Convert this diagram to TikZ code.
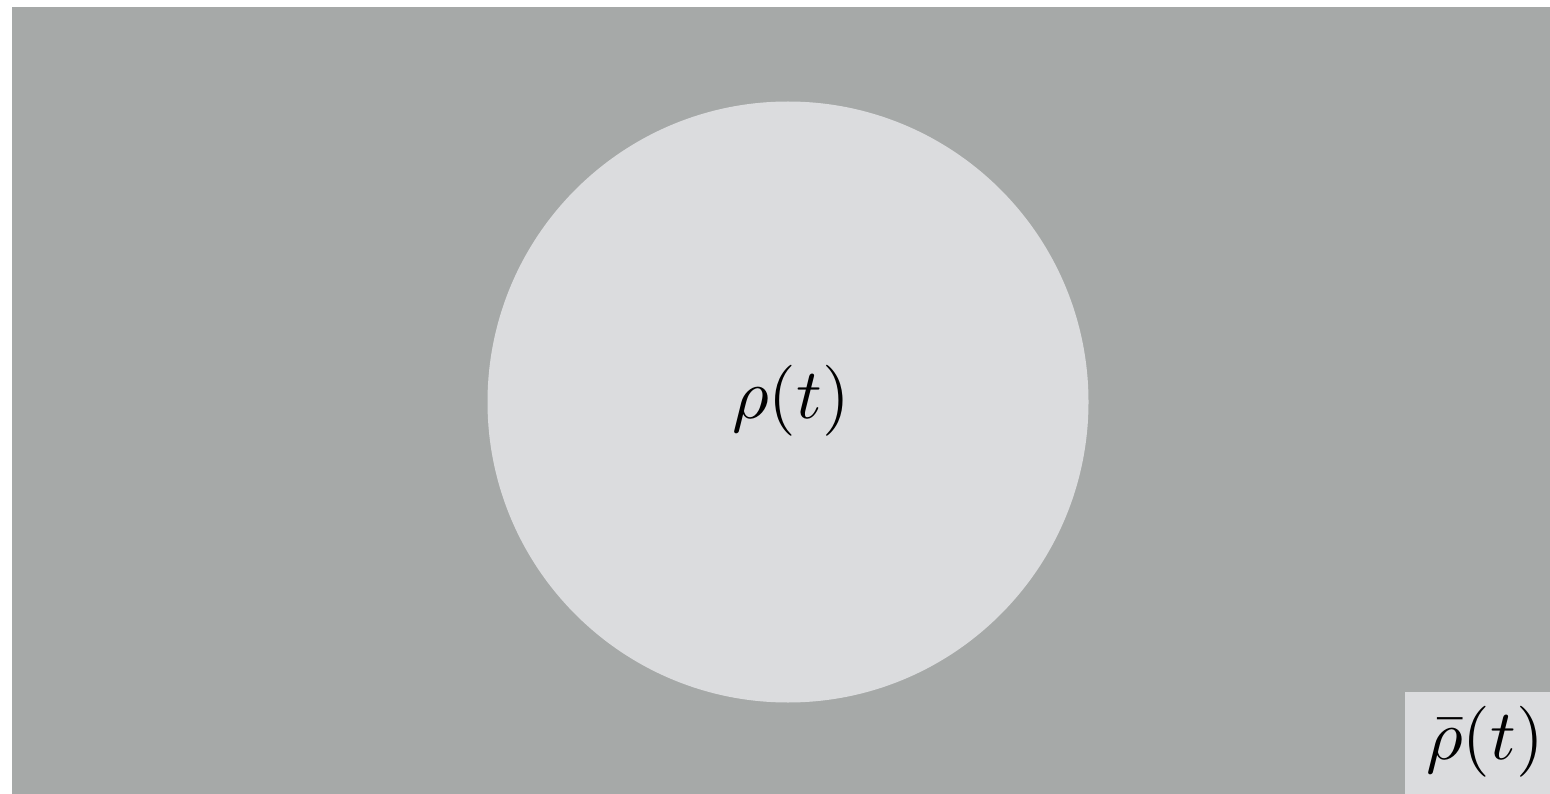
\documentclass[tikz,border=0pt]{standalone}
\definecolor{outer}{HTML}{A6A9A8}
\definecolor{inner}{HTML}{DBDCDE}
\tikzset{
  lbl/.style={scale=7.1, inner sep=0pt},
}
\begin{document}
\begin{tikzpicture}[x=1pt,y=-1pt]
\useasboundingbox (0,0) rectangle (1550,794);
\fill[white] (0,0) rectangle (1550,794);
\fill[outer] (12,7) rectangle (1550,794);
\fill[inner] (788,402) circle[radius=300.5];
\node[lbl] (rho) at (791,401) {$\rho(t)$};
\fill[inner] (1405,692) rectangle (1550,794);
\node[lbl] (rhobar) at (1485,742) {$\bar\rho(t)$};
\end{tikzpicture}
\end{document}
